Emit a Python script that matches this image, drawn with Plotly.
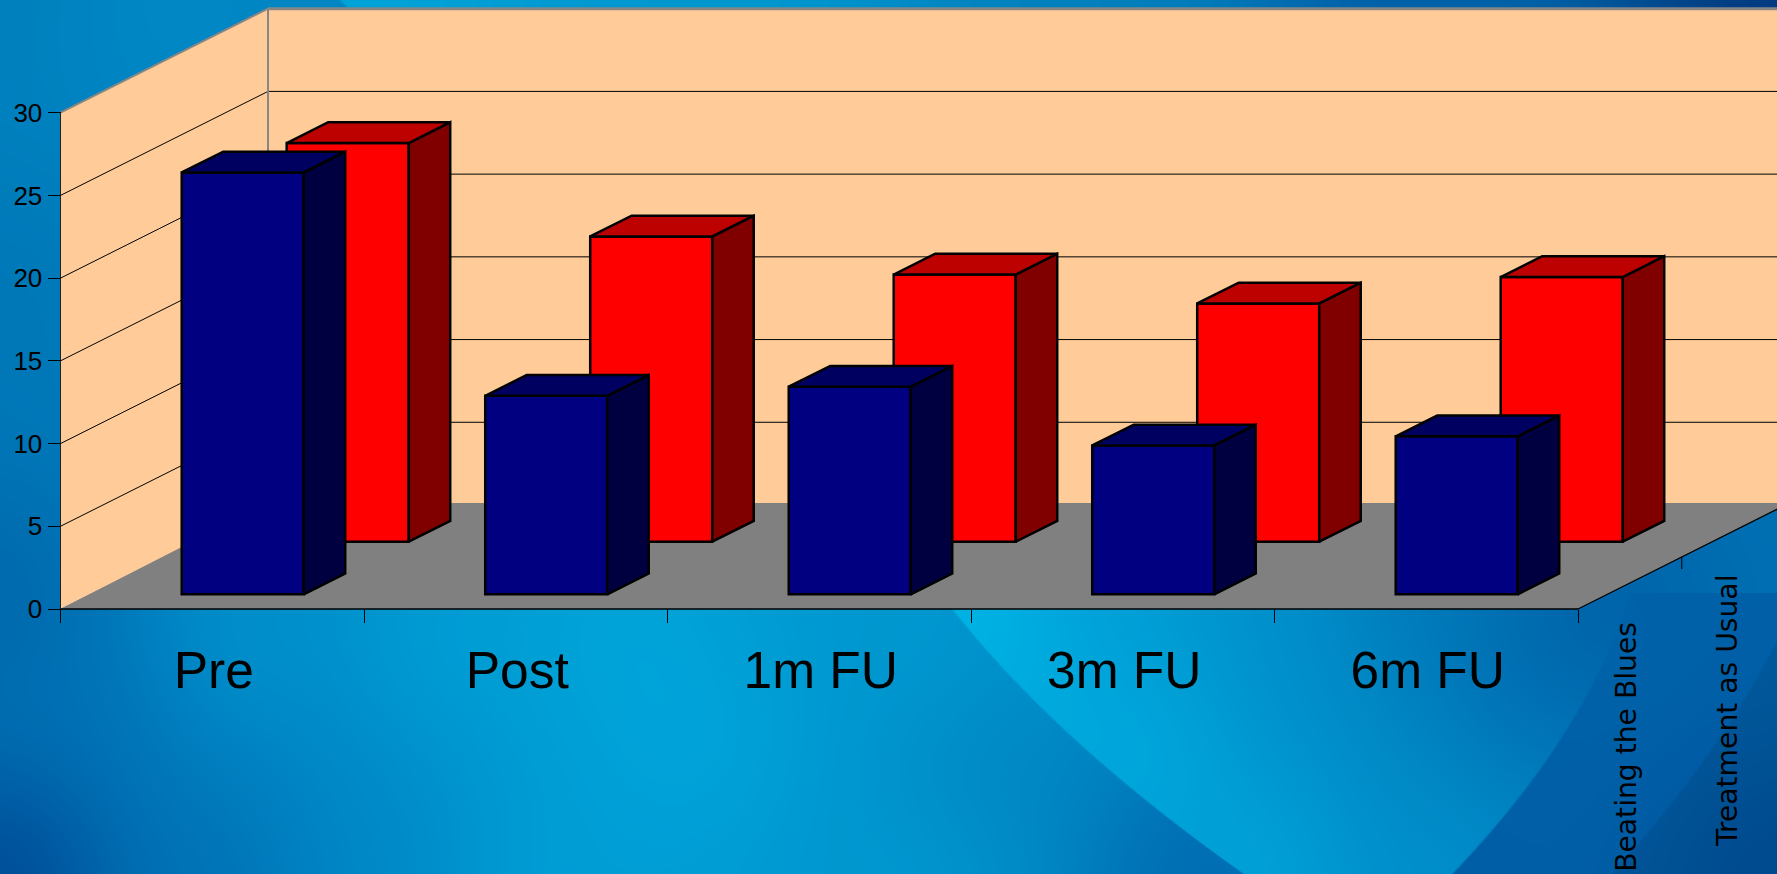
import base64, struct, zlib
import numpy as np
import plotly.graph_objects as go

# ---------- data ----------
categories = ["Pre", "Post", "1m FU", "3m FU", "6m FU"]
beating_the_blues = [25.5, 12.0, 12.55, 9.0, 9.55]
treatment_as_usual = [24.1, 18.45, 16.15, 14.4, 16.0]
series_names = ["Beating the Blues", "Treatment as Usual"]
y_ticks = [0, 5, 10, 15, 20, 25, 30]

W, H = 1777, 874
X0, X5, Y0, Y30 = 60.5, 1578.0, 609.0, 112.7
CAT_PX = (X5 - X0) / 5
VAL_PX = (Y0 - Y30) / 30
DX = 207.5 / CAT_PX   # depth vector, in axis units
DY = 104.0 / VAL_PX
ncat = len(categories)


def px(c, d=0.0):
    return c + d * DX


def py(v, d=0.0):
    return v + d * DY


# ---------- background picture ----------
def rgb(h):
    return [int(h[i:i + 2], 16) for i in (0, 2, 4)]


SET_A = [(0, 0, "0080bd"), (150, 30, "0088c5"), (0, 300, "0078b8"), (0, 600, "0068ac"), (0, 874, "004a96"),
         (100, 700, "0072b6"), (227, 874, "0072b6"), (227, 643, "0092ce"), (340, 843, "0088c6"), (453, 643, "009ed6"),
         (567, 874, "009ed6"), (680, 743, "00a6dc"), (623, 643, "00a6da"), (907, 643, "0098d0"), (997, 777, "0088c4"),
         (1190, 874, "006cb2"), (907, 874, "0098d0")]
SET_B = [(340, 3, "00a4d8"), (700, 3, "0098d0"), (1100, 3, "0080bc"), (1400, 3, "0060a8"), (1777, 3, "003a80"),
         (970, 615, "00b8e8"), (1100, 620, "00a0d8"), (1280, 615, "0090cc"), (1420, 612, "0078b8"), (1570, 615, "0064aa"),
         (1040, 680, "00acdf"), (1150, 750, "00aade"), (1280, 860, "00a6da"), (1350, 874, "0090cc"), (1440, 874, "0090cc"),
         (1300, 700, "0090cc"), (1420, 750, "0088c4"), (1500, 700, "0070b4"), (1600, 620, "0060a8")]
SET_C = [(1460, 874, "005ea6"), (1550, 800, "0060a8"), (1620, 640, "0064aa"), (1700, 620, "0060a8"),
         (1777, 500, "0060a8"), (1777, 874, "004f9a")]
CURVE1 = ([610, 670, 720, 773, 817, 874], [950, 1008, 1059, 1110, 1161, 1248])
CURVE2 = ([593, 693, 753, 817, 874], [1630, 1586, 1550, 1505, 1450])
CURVE3 = ([640, 797, 850, 874], [1777, 1675, 1634, 1610])
STEP = 8


def shepard(points):
    ys, xs = np.arange(0, H + STEP, STEP, dtype=float), np.arange(0, W + STEP, STEP, dtype=float)
    yy, xx = np.meshgrid(ys, xs, indexing="ij")
    num = np.zeros(xx.shape + (3,))
    den = np.zeros(xx.shape)
    for x, y, c in points:
        w = 1.0 / (((xx - x) ** 2 + (yy - y) ** 2) ** 1.25 + 1.0)
        num += w[..., None] * np.array(rgb(c), dtype=float)
        den += w
    img = num / den[..., None]
    # soften the interpolation with repeated box blurs, then enlarge
    kernel = np.ones(11) / 11
    for _ in range(3):
        for axis in (0, 1):
            pad = [(0, 0)] * 3
            pad[axis] = (5, 5)
            img = np.apply_along_axis(lambda v: np.convolve(v, kernel, "valid"), axis, np.pad(img, pad, mode="edge"))
    fx, fy = np.arange(W), np.arange(H)
    out = np.zeros((H, W, 3), dtype=np.float32)
    for ch in range(3):
        tmp = np.stack([np.interp(fx, xs, row) for row in img[..., ch]])
        out[..., ch] = np.stack([np.interp(fy, ys, tmp[:, j]) for j in range(W)], axis=1)
    return out


def background():
    yy, xx = np.mgrid[0:H, 0:W].astype(np.float32)
    a, b, c = shepard(SET_A), shepard(SET_B), shepard(SET_C)
    coef1 = np.polyfit(*CURVE1, 2)
    c1_top = np.polyval(coef1, 610.0)
    c1 = np.where(yy >= 610, np.polyval(coef1, yy), 340 + (c1_top - 340) * yy / 610)
    c2 = np.where(yy >= 593, np.polyval(np.polyfit(*CURVE2, 2), yy), 3000.0)
    c3 = np.polyval(np.polyfit(*CURVE3, 2), yy)
    m1 = np.clip((xx - c1) / 3 + 0.5, 0, 1)[..., None]
    m2 = np.clip((xx - c2) / 3 + 0.5, 0, 1)[..., None]
    m3 = np.clip((xx - c3) / 3 + 0.5, 0, 1)[..., None] * (yy >= 640)[..., None]
    img = a * (1 - m1) + b * m1
    img = img * (1 - m2) + c * m2
    img = img * (1 - 0.08 * m3)
    img = np.clip(img, 0, 255).astype(np.uint8)
    raw = b"".join(b"\x00" + img[r].tobytes() for r in range(H))

    def chunk(t, d):
        return struct.pack(">I", len(d)) + t + d + struct.pack(">I", zlib.crc32(t + d) & 0xFFFFFFFF)

    png = (b"\x89PNG\r\n\x1a\n" + chunk(b"IHDR", struct.pack(">IIBBBBB", W, H, 8, 2, 0, 0, 0))
           + chunk(b"IDAT", zlib.compress(raw, 6)) + chunk(b"IEND", b""))
    return "data:image/png;base64," + base64.b64encode(png).decode()


# ---------- walls, floor, grid ----------
def poly(points, fill, line_w=0):
    path = "M " + " L ".join(f"{x},{y}" for x, y in points) + " Z"
    return dict(type="path", path=path, xref="x", yref="y", layer="below", fillcolor=fill, line=dict(width=line_w))


def seg(x0, y0, x1, y1, color="black", width=1.0):
    return dict(type="line", x0=x0, y0=y0, x1=x1, y1=y1, xref="x", yref="y", layer="below",
                line=dict(color=color, width=width))


WALL = "#FFCC99"
FLOOR = "#808080"
GRAY = "#868686"
top = y_ticks[-1]
far = ncat + 1.0   # back wall runs off the page
FLOOR_D = 1.02     # the floor's back edge sits a touch past the wall's foot
shapes = [
    poly([(px(0), py(0)), (px(0), py(top)), (px(0, 1), py(top, 1)), (px(0, 1), py(0, 1))], WALL),
    poly([(px(0, 1), py(0, 1)), (px(0, 1), py(top, 1)), (far, py(top, 1)), (far, py(0, 1))], WALL),
    poly([(px(0), py(0)), (px(ncat), py(0)), (px(ncat, FLOOR_D), py(0, FLOOR_D)), (px(0, 1), py(0, FLOOR_D))], FLOOR),
]
for v in y_ticks[1:-1]:
    shapes.append(seg(px(0), py(v), px(0, 1), py(v, 1)))
    shapes.append(seg(px(0, 1), py(v, 1), far, py(v, 1)))
shapes += [
    seg(px(0), py(top), px(0, 1), py(top, 1), GRAY, 2),
    seg(px(0, 1), py(0, 1), px(0, 1), py(top, 1), GRAY, 2),
    seg(px(0, 1), py(top, 1), far, py(top, 1), GRAY, 3),
    seg(px(0), py(0), px(0), py(top), "#222222", 1),
    seg(px(0), py(0), px(ncat), py(0), "black", 1.5),
    seg(px(ncat), py(0), px(ncat, FLOOR_D), py(0, FLOOR_D), "black", 1.2),
    seg(px(ncat, 0.5), py(0, 0.5), px(ncat, 0.5), py(0, 0.5) - 12 / VAL_PX, "black", 1),
]

# ---------- bars ----------
BAR_START, BAR_W = 0.303, 0.402
BARS = [
    dict(name=series_names[1], values=treatment_as_usual, d0=0.647, d1=0.847,
         face="#FF0000", side="#800000", cap="#BD0000"),
    dict(name=series_names[0], values=beating_the_blues, d0=0.141, d1=0.341,
         face="#000080", side="#000040", cap="#000060"),
]
fig = go.Figure()
for s in BARS:
    x_left = [i + BAR_START + s["d0"] * DX for i in range(ncat)]
    fig.add_bar(x=[x + BAR_W / 2 for x in x_left], y=s["values"], base=py(0, s["d0"]), width=BAR_W,
                name=s["name"], marker=dict(color=s["face"], line=dict(color="black", width=2.5)),
                showlegend=False, hoverinfo="skip")
for s in BARS:
    side_x, side_y, cap_x, cap_y = [], [], [], []
    delta = s["d1"] - s["d0"]
    for i, v in enumerate(s["values"]):
        xl = i + BAR_START + s["d0"] * DX
        xr = xl + BAR_W
        b = py(0, s["d0"])
        t = b + v
        side_x += [xr, xr + delta * DX, xr + delta * DX, xr, xr, None]
        side_y += [b, b + delta * DY, t + delta * DY, t, b, None]
        cap_x += [xl, xl + delta * DX, xr + delta * DX, xr, xl, None]
        cap_y += [t, t + delta * DY, t + delta * DY, t, t, None]
    for xs, ys, col in ((side_x, side_y, s["side"]), (cap_x, cap_y, s["cap"])):
        fig.add_scatter(x=xs, y=ys, mode="lines", fill="toself", fillcolor=col,
                        line=dict(color="black", width=2.5), showlegend=False, hoverinfo="skip")

# ---------- layout ----------
annotations = []
for name, d, shift, xshift in ((series_names[0], 0.25, -37, -4), (series_names[1], 0.75, -41, -6)):
    annotations.append(dict(x=px(ncat, d), y=py(0, d), xref="x", yref="y", text=name, textangle=-90, showarrow=False,
                            xanchor="center", yanchor="top", yshift=shift, xshift=xshift,
                            font=dict(family="DejaVu Sans", size=28.2, color="black")))

fig.update_layout(
    width=W, height=H, margin=dict(l=0, r=0, t=0, b=0), autosize=False,
    paper_bgcolor="#0090c8", plot_bgcolor="rgba(0,0,0,0)", barmode="overlay", showlegend=False,
    shapes=shapes, annotations=annotations,
    images=[dict(source=background(), xref="paper", yref="paper", x=0, y=1, sizex=1, sizey=1,
                 sizing="stretch", xanchor="left", yanchor="top", layer="below")],
    xaxis=dict(domain=[0, 1], range=[-X0 / CAT_PX, (W - X0) / CAT_PX], anchor="free", position=(H - Y0) / H,
               tickmode="array", tickvals=[i + 0.505 for i in range(ncat)], ticktext=categories,
               ticks="", ticklen=0, ticklabelstandoff=26, showgrid=False, zeroline=False, showline=False,
               tickfont=dict(family="Liberation Sans", size=51.5, color="black"),
               minor=dict(tickmode="array", tickvals=list(range(ncat + 1)), ticks="outside", ticklen=13,
                          tickwidth=1, tickcolor="black", showgrid=False)),
    yaxis=dict(domain=[0, 1], range=[-(H - Y0) / VAL_PX, Y0 / VAL_PX], anchor="free", position=X0 / W,
               tickmode="array", tickvals=y_ticks, ticks="outside", ticklen=13, tickwidth=1, tickcolor="black",
               showgrid=False, zeroline=False, showline=False,
               tickfont=dict(family="Liberation Sans", size=26, color="black")),
)
fig.write_html("out.html", config=dict(displayModeBar=False),
               post_script="document.body.style.margin='0';document.body.style.overflow='hidden';")
